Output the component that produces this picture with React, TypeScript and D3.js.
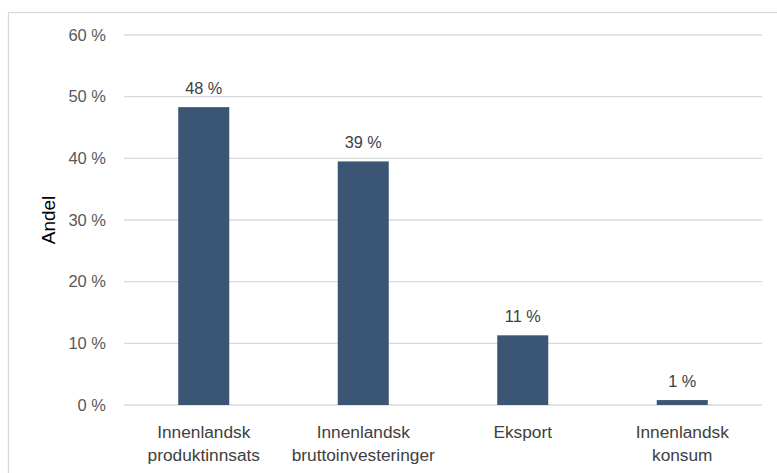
import React from "react";
import * as d3 from "d3";

const categories: string[][] = [
  ["Innenlandsk", "produktinnsats"],
  ["Innenlandsk", "bruttoinvesteringer"],
  ["Eksport"],
  ["Innenlandsk", "konsum"],
];
const values: number[] = [48.3, 39.5, 11.3, 0.8];
const valueLabels: string[] = ["48 %", "39 %", "11 %", "1 %"];
const yTicks: number[] = [0, 10, 20, 30, 40, 50, 60];
const yTitle = "Andel";

const W = 777;
const H = 473;
const FONT = "'Liberation Sans', Arial, sans-serif";

export default function App() {
  const x = d3
    .scaleBand<number>()
    .domain(values.map((_, i) => i))
    .range([124, 762])
    .paddingInner(0.68)
    .paddingOuter(0.34);
  const y = d3.scaleLinear().domain([0, 60]).range([405, 35]);

  return (
    <svg
      width={W}
      height={H}
      style={{ position: "absolute", left: 0, top: 0, background: "#fff" }}
      fontFamily={FONT}
    >
      <rect x={8.5} y={12.5} width={W + 20} height={H + 20} fill="#fff" stroke="#d9d9d9" strokeWidth={1.3} />
      {yTicks.map((t) => (
        <g key={t}>
          <line x1={124} x2={762} y1={y(t)} y2={y(t)} stroke="#d9d9d9" strokeWidth={1.3} />
          <text x={106} y={y(t)} dy="0.35em" textAnchor="end" fontSize={16.5} fill="#595959">
            {`${t} %`}
          </text>
        </g>
      ))}
      {values.map((v, i) => (
        <g key={i}>
          <rect
            x={x(i)!}
            y={y(v)}
            width={x.bandwidth()}
            height={y(0) - y(v)}
            fill="#3a5674"
          />
          <text
            x={x(i)! + x.bandwidth() / 2}
            y={y(v) - 13}
            textAnchor="middle"
            fontSize={16.3}
            fill="#404040"
          >
            {valueLabels[i]}
          </text>
          {categories[i].map((line, j) => (
            <text
              key={j}
              x={x(i)! + x.bandwidth() / 2}
              y={432 + j * 23}
              dy="0.35em"
              textAnchor="middle"
              fontSize={17.3}
              fill="#404040"
            >
              {line}
            </text>
          ))}
        </g>
      ))}
      <text
        transform={`translate(48,220) rotate(-90)`}
        textAnchor="middle"
        dy="0.35em"
        fontSize={19}
        fill="#000"
      >
        {yTitle}
      </text>
    </svg>
  );
}
